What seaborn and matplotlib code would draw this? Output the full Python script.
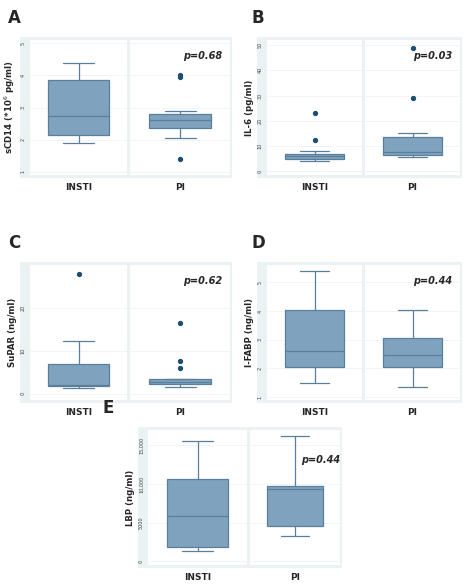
import matplotlib
matplotlib.use("Agg")
import matplotlib.pyplot as plt
import seaborn as sns

sns.set_theme(style="white")
plt.rcParams['font.family'] = ['DejaVu Sans']

groups = ["INSTI", "PI"]
# stats: [whislo, q1, med, q3, whishi], fliers
A_stats = [[1.9, 2.15, 2.75, 3.85, 4.4], [2.05, 2.35, 2.62, 2.8, 2.88]]
A_fliers = [[], [3.95, 4.0, 1.4]]
B_stats = [[4, 5, 6, 7, 8], [5.5, 6.5, 7.5, 13.5, 15]]
B_fliers = [[12.5, 23], [29, 49]]
C_stats = [[1.3, 1.8, 2.0, 7.0, 12.3], [1.5, 2.2, 2.7, 3.3, 3.5]]
C_fliers = [[28], [6, 7.5, 16.5]]
D_stats = [[1.5, 2.05, 2.6, 4.05, 5.4], [1.35, 2.05, 2.45, 3.05, 4.05]]
D_fliers = [[], []]
E_stats = [[1300, 1800, 5900, 10600, 15600], [3200, 4500, 9300, 9700, 16200]]
E_fliers = [[], []]

panels = [
    ("A", "sCD14 (*10$^6$ pg/ml)", A_stats, A_fliers, "p=0.68", (0.92, 0.88), [1, 2, 3, 4, 5], ["1", "2", "3", "4", "5"], (0.9, 5.1), (30, 127, 130, 230, 40, 175)),
    ("B", "IL-6 (pg/ml)", B_stats, B_fliers, "p=0.03", (0.92, 0.88), [0, 10, 20, 30, 40, 50], ["0", "10", "20", "30", "40", "50"], (-1.5, 52), (267, 362, 365, 460, 40, 175)),
    ("C", "SuPAR (ng/ml)", C_stats, C_fliers, "p=0.62", (0.92, 0.88), [0, 10, 20], ["0", "10", "20"], (-1.5, 30), (30, 127, 130, 230, 265, 400)),
    ("D", "I-FABP (ng/ml)", D_stats, D_fliers, "p=0.44", (0.92, 0.88), [1, 2, 3, 4, 5], ["1", "2", "3", "4", "5"], (0.9, 5.6), (267, 362, 365, 460, 265, 400)),
    ("E", "LBP (ng/ml)", E_stats, E_fliers, "p=0.44", (1.0, 0.78), [0, 5000, 10000, 15000], ["0", "5000", "10,000", "15,000"], (-500, 17000), (148, 247, 250, 340, 430, 565)),
]
letter_pos = {"A": (8, 18), "B": (252, 18), "C": (8, 243), "D": (252, 243), "E": (103, 408)}

W, H = 474, 587
fig = plt.figure(figsize=(4.74, 5.87), dpi=100)
box_face = "#7fa3be"
box_edge = "#5a7f9b"
bg = "#eaf2f3"

for letter, ylab, stats, fliers, ptxt, ppos, ticks, tlabels, ylim, (x0, x1, x2, x3, yt, yb) in panels:
    bgax = fig.add_axes([(x0 - 10) / W, 1 - (yb + 3) / H, (x3 - x0 + 12) / W, (yb - yt + 6) / H])
    bgax.set_facecolor(bg)
    bgax.set_xticks([]); bgax.set_yticks([])
    for s in bgax.spines.values():
        s.set_visible(False)
    for i, (xa, xb) in enumerate([(x0, x1), (x2, x3)]):
        ax = fig.add_axes([xa / W, 1 - yb / H, (xb - xa) / W, (yb - yt) / H])
        ax.set_facecolor("white")
        st = stats[i]
        bx = [dict(whislo=st[0], q1=st[1], med=st[2], q3=st[3], whishi=st[4], fliers=fliers[i], label=groups[i])]
        ax.bxp(bx, positions=[0], widths=0.62, patch_artist=True, showcaps=True,
               boxprops=dict(facecolor=box_face, edgecolor=box_edge, linewidth=0.9),
               medianprops=dict(color=box_edge, linewidth=0.9),
               whiskerprops=dict(color=box_edge, linewidth=0.9),
               capprops=dict(color=box_edge, linewidth=0.9),
               flierprops=dict(marker="o", markerfacecolor="#1a4f72", markeredgecolor="#1a4f72", markersize=2.8))
        ax.set_xlim(-0.5, 0.5)
        ax.set_ylim(*ylim)
        ax.set_xticks([])
        ax.set_yticks(ticks)
        for t in ticks:
            ax.axhline(t, color="#eef3f4", lw=0.6, zorder=0)
        for s in ["top", "right", "left", "bottom"]:
            ax.spines[s].set_visible(False)
        if i == 0:
            ax.set_yticklabels(tlabels, rotation=90, fontsize=3.5, va="center", color="#444444")
            ax.tick_params(axis="y", length=2, width=0.4, pad=1, colors="#444444")
            ax.set_ylabel(ylab, fontsize=6.2, fontweight="bold", labelpad=3)
        else:
            ax.set_yticklabels([])
            ax.tick_params(axis="y", length=0)
            ax.text(ppos[0], ppos[1], ptxt, transform=ax.transAxes, ha="right", va="center",
                    fontsize=7, fontweight="bold", style="italic")
        ax.text(0.5, -0.09, groups[i], transform=ax.transAxes, ha="center", va="center",
                fontsize=6.5, fontweight="bold")
    lx, ly = letter_pos[letter]
    fig.text(lx / W, 1 - ly / H, letter, fontsize=12, fontweight="bold", ha="left", va="center")

fig.savefig("out.png", dpi=100, facecolor="white")
